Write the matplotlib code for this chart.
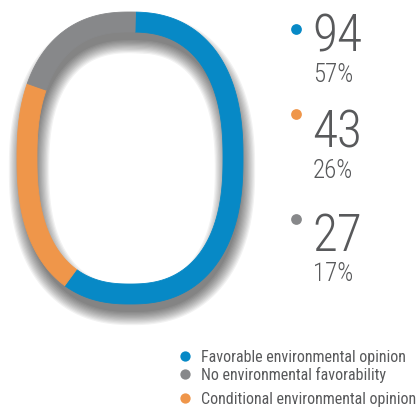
import numpy as np
import matplotlib.pyplot as plt
from matplotlib import font_manager

# survey result counts, drawn clockwise from the top of the ring
labels = ['Favorable environmental opinion', 'Conditional environmental opinion', 'No environmental favorability']
counts = [94, 43, 27]
shares = ['57%', '26%', '17%']
colors = ['#0789c6', '#ef964a', '#87888a']
legend_order = [0, 2, 1]

TEXT = '#58595b'
installed = {f.name for f in font_manager.fontManager.ttflist}
FONT = next((f for f in ['Roboto Condensed', 'Liberation Sans Narrow', 'Roboto']
             if f in installed), 'DejaVu Sans')


def squircle(cx, cy, a, b, n, t):
    c, s = np.cos(t), np.sin(t)
    x = cx + a * np.sign(c) * np.abs(c) ** (2 / n)
    y = cy - b * np.sign(s) * np.abs(s) ** (2 / n)
    return x, y


fig = plt.figure(figsize=(4.19, 4.09), dpi=100)
ax = fig.add_axes([0, 0, 1, 1])
ax.set_xlim(0, 419)
ax.set_ylim(409, 0)
ax.axis('off')

# ring centre line, clockwise from just right of the top
cx, cy, a, b, n, width = 130, 158, 103, 136, 2.4, 20
t = np.linspace(np.pi / 2 - 0.03, np.pi / 2 - 0.03 - 2 * np.pi, 3000)
x, y = squircle(cx, cy, a, b, n, t)
seg = np.hypot(np.diff(x), np.diff(y))
s = np.concatenate([[0], np.cumsum(seg)]) / seg.sum()

# soft drop shadow under the ring
for k in range(12):
    ax.plot(x + 2, y + 11, color='black', alpha=0.05,
            lw=(width - 6 + 2.4 * k) * 0.72, solid_joinstyle='round', zorder=1)

# ring segments as filled bands between offset curves
dx, dy = np.gradient(x), np.gradient(y)
norm = np.hypot(dx, dy)
nx, ny = -dy / norm, dx / norm
bounds = np.concatenate([[0], np.cumsum(counts)]) / sum(counts)
for i, col in enumerate(colors):
    m = (s >= bounds[i]) & (s <= bounds[i + 1])
    xs, ys = x[m], y[m]
    ox, oy = xs + nx[m] * width / 2, ys + ny[m] * width / 2
    ix, iy = xs - nx[m] * width / 2, ys - ny[m] * width / 2
    ax.fill(np.concatenate([ox, ix[::-1]]), np.concatenate([oy, iy[::-1]]),
            color=col, lw=0.6, ec=col, zorder=3)

# value callouts on the right
number_y = [52, 148, 251]
dot_y = [29, 114, 219]
for i, base in enumerate(number_y):
    ax.scatter(296, dot_y[i], s=60, color=colors[i], lw=0, zorder=4)
    ax.text(312, base, str(counts[i]), fontsize=37, family=FONT, weight='light',
            color=TEXT, va='baseline', ha='left')
    ax.text(313, base + 30, shares[i], fontsize=18, family=FONT, weight='light',
            color=TEXT, va='baseline', ha='left')

# legend
legend_y = [362, 380, 404]
for yy, i in zip(legend_y, legend_order):
    ax.scatter(185, yy - 6, s=55, color=colors[i], lw=0, zorder=4)
    ax.text(201, yy, labels[i], fontsize=11.5, family=FONT,
            color=TEXT, va='baseline', ha='left')

fig.savefig('out.png', dpi=100)
